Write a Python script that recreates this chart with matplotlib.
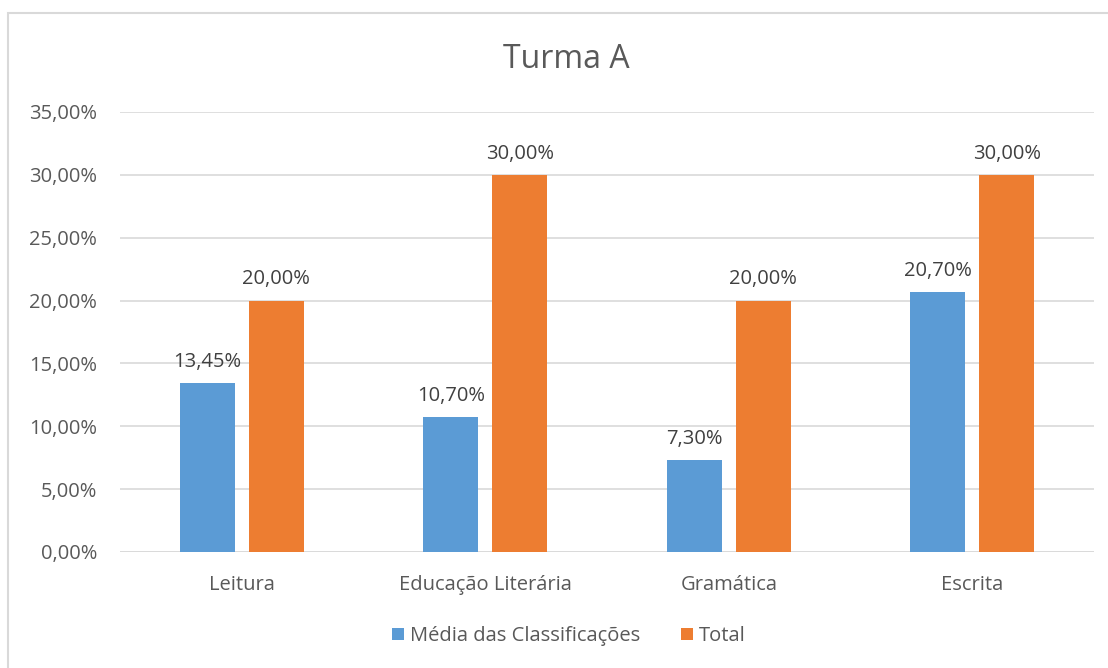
import matplotlib
matplotlib.use("Agg")
import matplotlib.pyplot as plt
from matplotlib.patches import Rectangle
import numpy as np

categories = ["Leitura", "Educação Literária", "Gramática", "Escrita"]
media = [13.45, 10.70, 7.30, 20.70]
total = [20.00, 30.00, 20.00, 30.00]
series_names = ["Média das Classificações", "Total"]
yticks = [0, 5, 10, 15, 20, 25, 30, 35]

plt.rcParams['font.family'] = ['Open Sans', 'DejaVu Sans']
txt = '#595959'
fig = plt.figure(figsize=(11.08, 6.68), dpi=100)
fig.patches.append(Rectangle((8/1108, -0.1), 1.2, 1 - 13/668 + 0.1, transform=fig.transFigure,
                             fill=False, edgecolor='#d9d9d9', linewidth=1.5))
ax = fig.add_axes([120/1108, 1 - 552/668, 974/1108, 440/668])

x = np.arange(len(categories))
w = 0.226
off = 0.1417
b1 = ax.bar(x - off, media, w, color='#5B9BD5', label=series_names[0], zorder=3)
b2 = ax.bar(x + off, total, w, color='#ED7D31', label=series_names[1], zorder=3)

def fmt(v):
    return f"{v:.2f}".replace('.', ',') + '%'

for bars, vals in ((b1, media), (b2, total)):
    for r, v in zip(bars, vals):
        ax.annotate(fmt(v), (r.get_x() + r.get_width()/2, v), xytext=(0, 8),
                    textcoords='offset points', ha='center', va='bottom',
                    fontsize=14.5, color='#404040')

ax.set_xlim(-0.5, len(categories) - 0.5)
ax.set_ylim(0, 35)
ax.set_yticks(yticks)
ax.set_yticklabels([fmt(t) for t in yticks], fontsize=14.5, color=txt)
ax.set_xticks(x)
ax.set_xticklabels(categories, fontsize=14.5, color=txt)
ax.tick_params(axis='both', length=0)
ax.tick_params(axis='y', pad=16.5)
ax.tick_params(axis='x', pad=16.5)
ax.grid(axis='y', color='#d9d9d9', linewidth=1.2, zorder=0)
for s in ax.spines.values():
    s.set_visible(False)
ax.axhline(0, color='#d9d9d9', linewidth=1.2, zorder=2)

fig.text(566/1108, 1 - 60/668, "Turma A", ha='center', va='center', fontsize=23, color=txt)
fig.legend(handles=[b1, b2], labels=series_names, loc='center', bbox_to_anchor=(569/1108, 1 - 636/668),
           ncol=2, frameon=False, fontsize=14.5, handlelength=0.6, handleheight=0.6,
           handletextpad=0.3, columnspacing=2.0, labelcolor=txt)

fig.savefig("out.png", dpi=100, facecolor='white')
